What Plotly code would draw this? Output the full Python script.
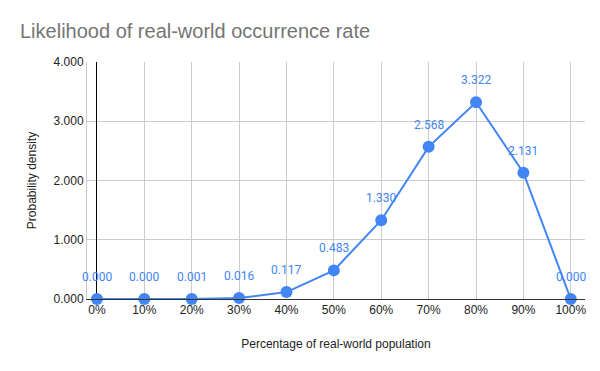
import plotly.graph_objects as go

pct = [0, 10, 20, 30, 40, 50, 60, 70, 80, 90, 100]
tick_labels = [f"{p}%" for p in pct]
density = [0.000, 0.000, 0.001, 0.016, 0.117, 0.483, 1.330, 2.568, 3.322, 2.131, 0.000]
y_ticks = [0, 1, 2, 3, 4]

blue = "#4285F4"

fig = go.Figure()
fig.add_trace(go.Scatter(
    x=pct, y=density, mode="lines+markers",
    line=dict(color=blue, width=2),
    marker=dict(color=blue, size=12),
    cliponaxis=False, hoverinfo="skip"
))
for xv, yv in zip(pct, density):
    fig.add_annotation(x=xv, y=yv, text=f"{yv:.3f}", showarrow=False,
                       yshift=22, font=dict(family="Roboto", size=12, color=blue))

fig.update_layout(
    width=600, height=371,
    margin=dict(l=79, r=23, t=54, b=80, autoexpand=False),
    paper_bgcolor="white", plot_bgcolor="white",
    showlegend=False,
    title=dict(text="Likelihood of real-world occurrence rate",
               x=12/600, xanchor="left", y=1-23/371, yanchor="middle",
               font=dict(family="Liberation Sans, Arial", size=20, color="#757575")),
    xaxis=dict(range=[-2.1, 103], tickvals=pct, ticktext=tick_labels,
               showgrid=True, gridcolor="#cccccc", gridwidth=1,
               zeroline=True, zerolinecolor="#000000", zerolinewidth=1,
               showline=True, linecolor="#333333", linewidth=1,
               ticks="", ticklen=0, automargin=False,
               tickfont=dict(family="Liberation Sans, Arial", size=12, color="#222222"),
               title=dict(text="Percentage of real-world population", standoff=23,
                          font=dict(family="Liberation Sans, Arial", size=12, color="#222222"))),
    yaxis=dict(range=[0, 4], tickvals=y_ticks, tickformat=".3f",
               showgrid=True, gridcolor="#cccccc", gridwidth=1,
               zeroline=False, automargin=False,
               showline=True, linecolor="#cccccc", linewidth=1,
               ticks="",
               tickfont=dict(family="Liberation Sans, Arial", size=12, color="#222222"),
               title=dict(text="Probability density", standoff=14,
                          font=dict(family="Liberation Sans, Arial", size=12, color="#222222"))),
)

fig.write_html("out.html")
